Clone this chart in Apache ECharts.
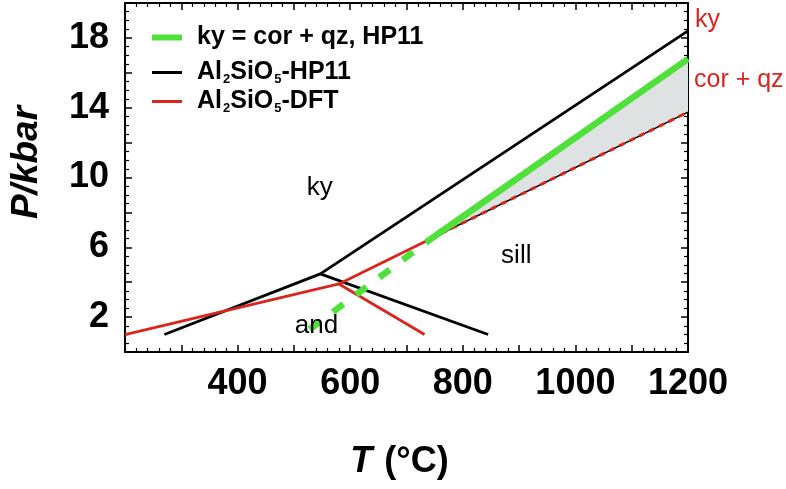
<!DOCTYPE html>
<html>
<head>
<meta charset="utf-8">
<script src="https://cdn.jsdelivr.net/npm/echarts@6/dist/echarts.min.js"></script>
<style>
html,body{margin:0;padding:0;background:#fff;}
#chart{width:786px;height:489px;}
</style>
</head>
<body>
<div id="chart"></div>
<script>
// ---- tick labels ----
const tempTickLabels = [400, 600, 800, 1000, 1200];
const presTickLabels = [2, 6, 10, 14, 18];

// ---- Al2SiO5 phase boundaries, HP11 (black) : [T °C, P kbar] ----
const hpKyAnd   = [[270, 1.0], [547, 4.48]];
const hpAndSill = [[547, 4.48], [845, 1.0]];
const hpKySill  = [[547, 4.48], [1200, 18.4]];

// ---- Al2SiO5 phase boundaries, DFT (red) ----
const dftKyAnd     = [[200, 1.0], [580, 3.9]];
const dftAndSill   = [[580, 3.9], [732, 1.0]];
const dftKySill    = [[580, 3.9], [745, 6.52]];
const dftKySillExt = [[745, 6.52], [1200, 13.75]];

// ---- ky = cor + qz, HP11 (green) ----
const corqzMeta   = [[528, 1.3], [745, 6.52]];
const corqzStable = [[745, 6.52], [1200, 16.8]];

// ---- shaded field between the two reactions ----
const shadeField = [[745, 6.52], [1200, 16.8], [1200, 13.75]];

// ---- field labels ----
const fieldLabels = [
  {name: 'ky',   value: [546, 9.4]},
  {name: 'sill', value: [895, 5.5]},
  {name: 'and',  value: [540, 1.5]}
];

const NAME_CORQZ = 'ky = cor + qz, HP11';
const NAME_HP = 'Al2SiO5-HP11';
const NAME_DFT = 'Al2SiO5-DFT';

const RED = '#d8261c';
const GREEN = '#4fe03a';
const BLACK = '#000000';
const FONT = 'Liberation Sans, Arial, Helvetica, sans-serif';

const chart = echarts.init(document.getElementById('chart'), null, {renderer: 'canvas'});

const axisCommonX = {
  type: 'value', min: 200, max: 1200, interval: 100,
  splitLine: {show: false},
  axisLine: {show: true, onZero: false, lineStyle: {color: BLACK, width: 2}},
  axisTick: {show: true, inside: true, length: 7, lineStyle: {color: BLACK, width: 1.5}},
  minorTick: {show: true, splitNumber: 5, length: 4, lineStyle: {color: BLACK, width: 1.2}},
  minorSplitLine: {show: false}
};
const axisCommonY = {
  type: 'value', min: 0, max: 20, interval: 2,
  splitLine: {show: false},
  axisLine: {show: true, onZero: false, lineStyle: {color: BLACK, width: 2}},
  axisTick: {show: true, inside: true, length: 7, lineStyle: {color: BLACK, width: 1.5}},
  minorTick: {show: true, splitNumber: 4, length: 4, lineStyle: {color: BLACK, width: 1.2}},
  minorSplitLine: {show: false}
};

function lineSeries(name, data, color, width, dash, z) {
  return {
    name: name, type: 'line', data: data, showSymbol: false, symbol: 'none',
    color: color, z: z || 3, silent: true,
    lineStyle: {color: color, width: width, type: dash || 'solid', cap: 'butt'}
  };
}

const legendText = {
  fontFamily: FONT, fontSize: 25, fontWeight: 'bold', color: BLACK,
  padding: [0, 0, 0, 10],
  rich: {
    b: {fontFamily: FONT, fontSize: 25, fontWeight: 'bold', color: BLACK},
    s: {fontFamily: FONT, fontSize: 13, fontWeight: 'bold', color: BLACK, padding: [14, 0, 0, 1]}
  }
};
function legendFormatter(name) {
  if (name === NAME_HP) return '{b|Al}{s|2}{b|SiO}{s|5}{b|-HP11}';
  if (name === NAME_DFT) return '{b|Al}{s|2}{b|SiO}{s|5}{b|-DFT}';
  return '{b|' + name + '}';
}
function makeLegend(name, top, h) {
  return {
    show: true, data: [name], left: 152, top: top, orient: 'vertical',
    icon: 'rect', itemWidth: 30, itemHeight: h, selectedMode: false,
    textStyle: legendText, formatter: legendFormatter, padding: 0
  };
}

const option = {
  animation: false,
  backgroundColor: '#ffffff',
  textStyle: {fontFamily: FONT},
  grid: {left: 122, right: 98, top: 3, bottom: 137, containLabel: false},
  legend: [
    makeLegend(NAME_CORQZ, 25, 6),
    makeLegend(NAME_HP, 60, 3),
    makeLegend(NAME_DFT, 89, 3)
  ],
  xAxis: [
    Object.assign({}, axisCommonX, {
      position: 'bottom',
      name: '{i|T}{n| (°C)}', nameLocation: 'middle', nameGap: 92,
      nameTextStyle: {
        padding: [0, 14, 0, 0],
        rich: {
          i: {fontFamily: FONT, fontSize: 36, fontWeight: 'bold', fontStyle: 'italic', color: BLACK},
          n: {fontFamily: FONT, fontSize: 36, fontWeight: 'bold', color: BLACK, padding: [0, 0, 0, 2]}
        }
      },
      axisLabel: {
        show: true, margin: 14, fontFamily: FONT, fontSize: 36, fontWeight: 'bold', color: BLACK,
        formatter: v => tempTickLabels.indexOf(v) >= 0 ? String(v) : ''
      }
    }),
    Object.assign({}, axisCommonX, {position: 'top', axisLabel: {show: false}})
  ],
  yAxis: [
    Object.assign({}, axisCommonY, {
      position: 'left',
      name: 'P/kbar', nameLocation: 'middle', nameGap: 80, nameRotate: 90,
      nameTextStyle: {fontFamily: FONT, fontSize: 37, fontWeight: 'bold', fontStyle: 'italic', color: BLACK,
        padding: [0, 0, 0, 30]},
      axisLabel: {
        show: true, margin: 16, fontFamily: FONT, fontSize: 36, fontWeight: 'bold', color: BLACK,
        formatter: v => presTickLabels.indexOf(v) >= 0 ? String(v) : ''
      }
    }),
    Object.assign({}, axisCommonY, {position: 'right', axisLabel: {show: false}})
  ],
  series: [
    {
      type: 'custom', name: 'shade', silent: true, z: 1,
      data: [shadeField[1]],
      renderItem: function (params, api) {
        const pts = shadeField.map(p => api.coord(p));
        return {type: 'polygon', shape: {points: pts}, style: {fill: '#dee2e2', stroke: null}};
      }
    },
    lineSeries(NAME_HP, hpKyAnd, BLACK, 2.8),
    lineSeries(NAME_HP, hpAndSill, BLACK, 2.8),
    lineSeries(NAME_HP, hpKySill, BLACK, 2.8),
    lineSeries(NAME_DFT, dftKyAnd, RED, 2.8),
    lineSeries(NAME_DFT, dftAndSill, RED, 2.8),
    lineSeries(NAME_DFT, dftKySill, RED, 2.8),
    lineSeries('dftExtBase', dftKySillExt, BLACK, 1.5, 'solid', 3),
    lineSeries('dftExtDash', dftKySillExt, RED, 3, [6, 5], 4),
    lineSeries('corqzMeta', corqzMeta, GREEN, 6.5, [13, 16], 5),
    lineSeries(NAME_CORQZ, corqzStable, GREEN, 6.5, 'solid', 5),
    {
      type: 'scatter', name: 'fields', silent: true, symbolSize: 0, z: 6,
      itemStyle: {opacity: 1},
      data: fieldLabels,
      label: {
        show: true, position: 'inside', formatter: p => p.name,
        fontFamily: FONT, fontSize: 26, color: '#000000', opacity: 1
      }
    }
  ],
  graphic: [
    {type: 'text', left: 695, top: 8, silent: true,
     style: {text: 'ky', font: '25px ' + FONT, fill: RED}},
    {type: 'text', left: 694, top: 68, silent: true,
     style: {text: 'cor + qz', font: '25px ' + FONT, fill: RED}}
  ]
};
chart.setOption(option);
</script>
</body>
</html>
